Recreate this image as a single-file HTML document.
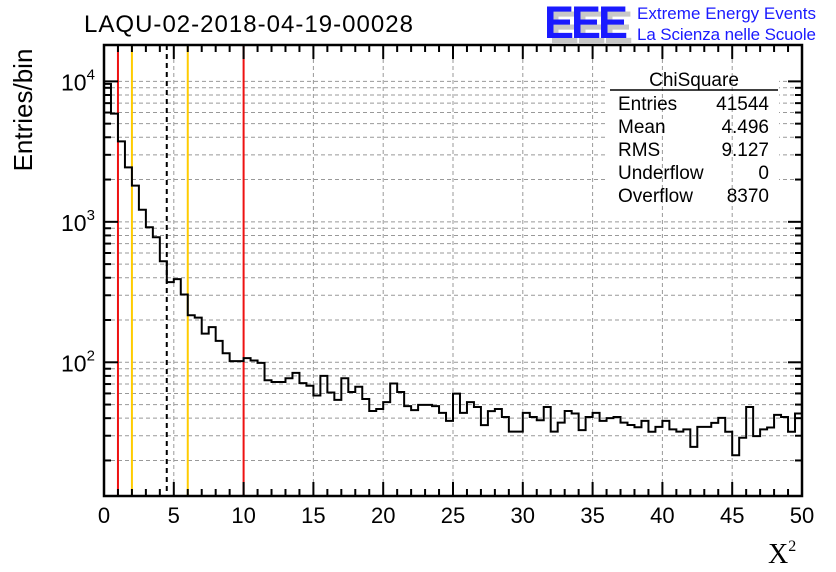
<!DOCTYPE html>
<html><head><meta charset="utf-8"><style>
html,body{margin:0;padding:0;background:#fff;}
svg{display:block;font-family:"Liberation Sans",sans-serif;}
</style></head><body>
<svg id="chart" width="836" height="572" viewBox="0 0 836 572" xmlns="http://www.w3.org/2000/svg">
<text x="84" y="32" font-size="24" textLength="329">LAQU-02-2018-04-19-00028</text>
<g>
<text x="549" y="43" font-size="45" font-weight="bold" fill="#c8c8c8" letter-spacing="-3">EEE</text>
<text x="544" y="38" font-size="45" font-weight="bold" fill="#1a1aff" letter-spacing="-3">EEE</text>
<text x="637" y="19" font-size="17" fill="#1a1aff" textLength="179">Extreme Energy Events</text>
<text x="637" y="40" font-size="17" fill="#1a1aff" textLength="179">La Scienza nelle Scuole</text>
</g>
<g id="gridH"></g>
<rect x="607" y="62" width="172" height="148" fill="#fff"/>
<g id="gridV"></g>
<g id="lines"></g>
<path id="hist" fill="none" stroke="#000" stroke-width="2"/>
<g id="axes"></g>
<g font-size="19">
<text x="694" y="86" text-anchor="middle">ChiSquare</text>
<line x1="610" y1="90" x2="778" y2="90" stroke="#000" stroke-width="1.5"/>
<text x="618" y="110">Entries</text><text x="769" y="110" text-anchor="end">41544</text>
<text x="618" y="133">Mean</text><text x="769" y="133" text-anchor="end">4.496</text>
<text x="618" y="156">RMS</text><text x="769" y="156" text-anchor="end">9.127</text>
<text x="618" y="179">Underflow</text><text x="769" y="179" text-anchor="end">0</text>
<text x="618" y="202">Overflow</text><text x="769" y="202" text-anchor="end">8370</text>
</g>
<text transform="translate(32,110) rotate(-90)" font-size="26" text-anchor="middle">Entries/bin</text>
<text x="768" y="563" font-size="28" font-family="Liberation Serif,serif">X<tspan font-size="16" dy="-12">2</tspan></text>
</svg>
<script>
const binWidth = 0.5;
const counts = [9600,5900,3740,2440,1810,1220,915,777,524,372,391,304,216,208,160,178,142,116,102,102,107,103,99,74.5,72.4,72.4,77,84,71,68,58,80,61,54,77,61.5,67,54.8,45,46.5,52,70.6,61.5,48.7,45.6,49.8,49.8,48.7,43.6,38.3,59.8,43.6,52,48,35.7,44.9,46.5,40.8,32.1,32.1,43.6,40.8,38.7,48,32.1,37.2,45,43.2,32.9,40.8,43.6,38.3,40,40.8,37.2,35.8,34.5,38.3,32,34.7,38.3,33.3,32.1,33.3,25,34.7,34.7,37,40.2,32,21.8,29,48,29.8,33.3,34.3,42.2,40.8,32,43.2];
const xTicks = [0,5,10,15,20,25,30,35,40,45,50];
const yDecades = [2,3,4];
const redCuts = [1,10];
const yellowCuts = [2,6];
const meanValue = 4.496;

const X0=104,X1=802,Y0=496,Y1=45,XMIN=0,XMAX=50,LMIN=1.048,LMAX=4.259;
const sx=v=>X0+(v-XMIN)/(XMAX-XMIN)*(X1-X0);
const sy=v=>Y0-(Math.log10(v)-LMIN)/(LMAX-LMIN)*(Y0-Y1);
const NS="http://www.w3.org/2000/svg";
function mk(tag,parent,attrs){const e=document.createElementNS(NS,tag);for(const k in attrs)e.setAttribute(k,attrs[k]);parent.appendChild(e);return e;}
const gH=document.getElementById('gridH'),gV=document.getElementById('gridV'),ax=document.getElementById('axes'),ln=document.getElementById('lines');
for(let d=1;d<=4;d++)for(let m=1;m<=9;m++){const v=m*Math.pow(10,d);const y=sy(v);if(y<Y1||y>Y0)continue;
 const l=mk('line',gH,{x1:X0,x2:X1,y1:y,y2:y,stroke:'#999','stroke-width':1,'stroke-dasharray':'4,3'});
 
 
 const len=m===1?14:7;
 mk('line',ax,{x1:X0,x2:X0+len,y1:y,y2:y,stroke:'#000','stroke-width':2});
 mk('line',ax,{x1:X1-len,x2:X1,y1:y,y2:y,stroke:'#000','stroke-width':2});
}
xTicks.forEach(t=>{const x=sx(t);
 if(t>0&&t<50){const l=mk('line',gV,{x1:x,x2:x,y1:Y1,y2:Y0,stroke:'#999','stroke-width':1,'stroke-dasharray':'4,3'});
 
 }
 const tl=mk('text',ax,{x:x,y:523,'font-size':22,'text-anchor':'middle'});tl.textContent=t;
 
 
});
for(let t=0;t<=50;t++){const x=sx(t);const len=t%5===0?14:7;
 mk('line',ax,{x1:x,x2:x,y1:Y0,y2:Y0-len,stroke:'#000','stroke-width':2});
 mk('line',ax,{x1:x,x2:x,y1:Y1,y2:Y1+len,stroke:'#000','stroke-width':2});}
yDecades.forEach(d=>{const y=sy(Math.pow(10,d));
 const t=mk('text',ax,{x:61,y:y+9,'font-size':23});t.innerHTML='10<tspan font-size="15" dy="-11">'+d+'</tspan>';
 
 });
mk('rect',ax,{x:X0,y:Y1,width:X1-X0,height:Y0-Y1,fill:'none',stroke:'#000','stroke-width':2.5});
function vline(v,color,dash,name){const l=mk('line',ln,{x1:sx(v),x2:sx(v),y1:Y1,y2:Y0,stroke:color,'stroke-width':2});if(dash)l.setAttribute('stroke-dasharray',dash);
 
 }
redCuts.forEach(v=>vline(v,'#ee1111',null,'red-cut-line'));
yellowCuts.forEach(v=>vline(v,'#ffcc00',null,'yellow-cut-line'));
vline(meanValue,'#000','5,4','mean-line');
let d='M'+sx(0)+','+Y0;
counts.forEach((c,i)=>{const y=Math.min(sy(c),Y0);d+=' L'+sx(i*binWidth)+','+y+' L'+sx((i+1)*binWidth)+','+y;});
d+=' L'+sx(counts.length*binWidth)+','+Y0;
document.getElementById('hist').setAttribute('d',d);
</script>
</body></html>
